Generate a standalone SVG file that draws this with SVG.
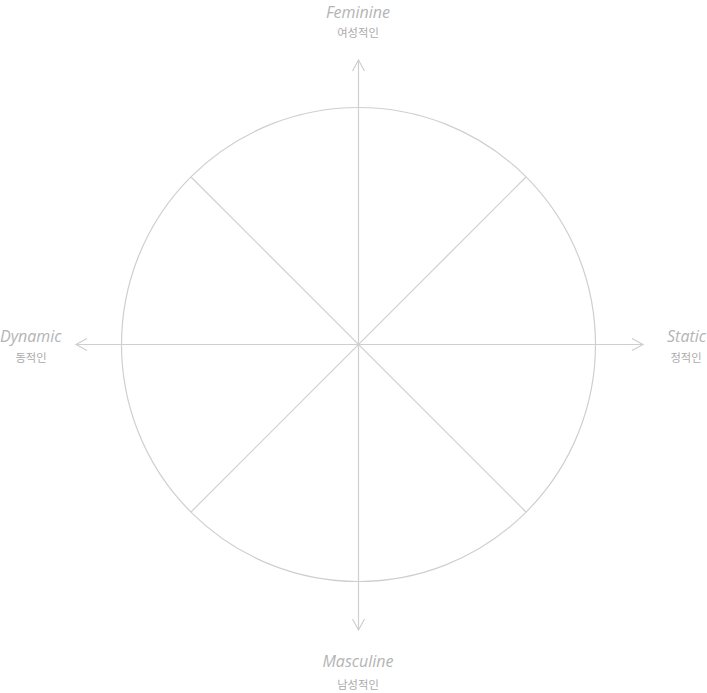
<svg xmlns="http://www.w3.org/2000/svg" width="707" height="693" viewBox="0 0 707 693">
<style>
.ln{stroke:#cfcfcf;stroke-width:1.2;fill:none}
.en{font-family:"Open Sans","Liberation Sans",sans-serif;font-style:italic;font-size:16px;fill:#b4b4b4}
.ko{font-family:"Noto Sans CJK KR",sans-serif;font-size:11.3px;fill:#ababab}
</style>
<defs>
<marker id="ah" viewBox="0 0 14 14" refX="12" refY="7" markerWidth="14" markerHeight="14" markerUnits="userSpaceOnUse" orient="auto">
<path d="M1,1 L12,7 L1,13" fill="none" stroke="#cfcfcf" stroke-width="1.2"/>
</marker>
</defs>
<rect width="707" height="693" fill="#fff"/>
<g id="connectors">
<circle class="ln" cx="358.5" cy="344.5" r="237"/>
<line class="ln" x1="358.5" y1="344.5" x2="358.5" y2="60" marker-end="url(#ah)"/>
<line class="ln" x1="358.5" y1="344.5" x2="358.5" y2="630" marker-end="url(#ah)"/>
<line class="ln" x1="358.5" y1="344.5" x2="76" y2="344.5" marker-end="url(#ah)"/>
<line class="ln" x1="358.5" y1="344.5" x2="643" y2="344.5" marker-end="url(#ah)"/>
<line class="ln" x1="191" y1="177" x2="526" y2="512"/>
<line class="ln" x1="526" y1="177" x2="191" y2="512"/>
</g>
<g id="feminine">
<text class="en" x="358" y="18" text-anchor="middle">Feminine</text>
<text class="ko" x="358" y="37" text-anchor="middle">여성적인</text>
</g>
<g id="dynamic">
<text class="en" x="0" y="342">Dynamic</text>
<text class="ko" x="31" y="362" text-anchor="middle">동적인</text>
</g>
<g id="static">
<text class="en" x="706" y="342" text-anchor="end">Static</text>
<text class="ko" x="686" y="362" text-anchor="middle">정적인</text>
</g>
<g id="masculine">
<text class="en" x="358" y="667" text-anchor="middle">Masculine</text>
<text class="ko" x="358" y="689" text-anchor="middle">남성적인</text>
</g>
</svg>
